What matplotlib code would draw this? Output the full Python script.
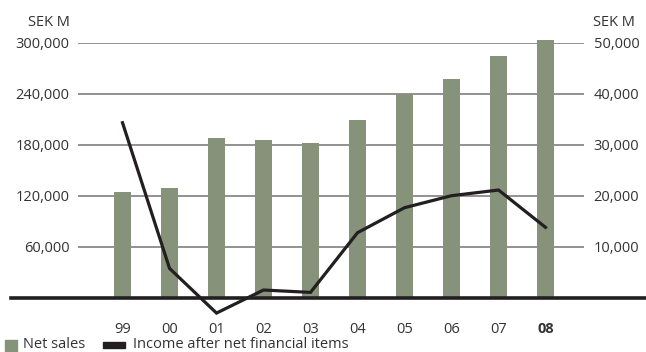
import matplotlib.pyplot as plt
from matplotlib.patches import Rectangle
from matplotlib.ticker import FuncFormatter

years = ['99', '00', '01', '02', '03', '04', '05', '06', '07', '08']
net_sales = [124000, 129000, 188000, 185000, 182000, 209500, 240000, 257500, 284500, 303500]
income = [34300, 5800, -2950, 1560, 1100, 12780, 17670, 20020, 21130, 13830]

left_ticks = [60000, 120000, 180000, 240000, 300000]
right_ticks = [10000, 20000, 30000, 40000, 50000]

green = '#86937a'
black = '#231f20'
grey_text = '#333333'

plt.rcParams['font.family'] = ['Open Sans', 'DejaVu Sans']
plt.rcParams['font.size'] = 10.5

W, H = 646, 352
fig = plt.figure(figsize=(W / 100, H / 100), dpi=100)
# axes box in pixels: x 78..584, y 42.5 (top gridline) .. 298 (zero line)
ax = fig.add_axes([78 / W, (H - 298) / H, (584 - 78) / W, (298 - 42.5) / H])
ax2 = ax.twinx()

x = list(range(len(years)))
ax.set_xlim(-0.947, 9.819)
ax.set_ylim(0, 300000)
ax2.set_ylim(0, 50000)

for v in left_ticks:
    ax.axhline(v, color='#7f7f7f', lw=1.2, zorder=1)

ax.bar(x, net_sales, width=0.36, color=green, zorder=2, clip_on=False)

# heavy baseline running across the whole figure
ax.axhline(0, xmin=(11 - 78) / 506, xmax=(646 - 78) / 506, color=black,
           lw=2.6, zorder=3, clip_on=False)

ax2.plot(x, income, color=black, lw=2.3, solid_joinstyle='miter',
         clip_on=False, zorder=4)

fmt = FuncFormatter(lambda v, p: f'{int(v):,}')
ax.set_yticks(left_ticks)
ax.yaxis.set_major_formatter(fmt)
ax2.set_yticks(right_ticks)
ax2.yaxis.set_major_formatter(fmt)

ax.set_xticks(x)
ax.set_xticklabels(years)
ax.get_xticklabels()[-1].set_fontweight('bold')

for a in (ax, ax2):
    for s in a.spines.values():
        s.set_visible(False)
    a.tick_params(length=0, colors=grey_text, labelsize=10.5)
ax.tick_params(axis='y', pad=6)
ax2.tick_params(axis='y', pad=7)
ax.tick_params(axis='x', pad=17)

fig.text(70 / W, (H - 23) / H, 'SEK M', ha='right', va='center', color=grey_text, fontsize=10.5)
fig.text(593 / W, (H - 23) / H, 'SEK M', ha='left', va='center', color=grey_text, fontsize=10.5)

# legend
fig.add_artist(Rectangle((5 / W, (H - 351) / H), 12 / W, 11 / H,
                         transform=fig.transFigure, color=green))
fig.text(23 / W, (H - 345) / H, 'Net sales', ha='left', va='center', color=grey_text, fontsize=10.5)
fig.add_artist(Rectangle((103 / W, (H - 347.5) / H), 22 / W, 5.5 / H,
                         transform=fig.transFigure, color=black))
fig.text(133 / W, (H - 345) / H, 'Income after net financial items', ha='left',
         va='center', color=grey_text, fontsize=10.5)

fig.savefig('out.png', dpi=100)
